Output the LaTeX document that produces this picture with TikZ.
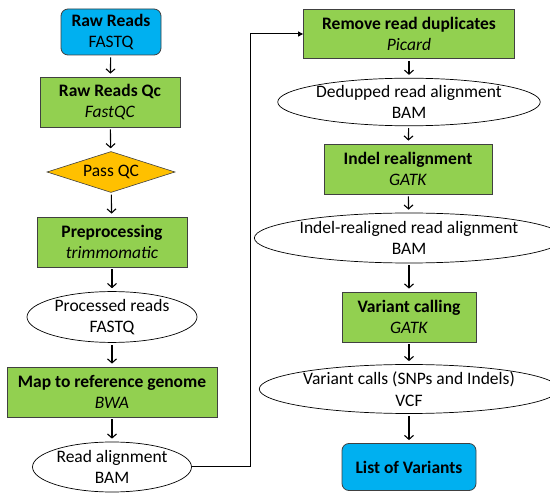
\documentclass[tikz,border=0pt]{standalone}
\usepackage{fontspec}
\setmainfont{Carlito}
\usetikzlibrary{shapes.geometric,arrows.meta}
\definecolor{cblue}{HTML}{00B0F0}
\definecolor{cgreen}{HTML}{92D050}
\definecolor{corange}{HTML}{FFC000}
\definecolor{cedge}{HTML}{404040}
\begin{document}
\begin{tikzpicture}[x=1pt,y=-1pt,
  every node/.style={font=\fontsize{17.5}{21.5}\selectfont, align=center, inner sep=0pt},
  blueb/.style={draw=cedge, line width=0.8pt, fill=cblue, rounded corners=7pt},
  greenb/.style={draw=cedge, line width=0.8pt, fill=cgreen},
  decision/.style={diamond, draw=cedge, line width=0.6pt, fill=corange, aspect=3},
  datab/.style={ellipse, draw=black, line width=0.7pt, fill=white},
  arr/.style={-{Straight Barb[length=4pt,width=9pt]}, line width=1.1pt, shorten >=3pt, shorten <=2pt},
  link/.style={-{Triangle[length=5pt,width=5pt]}, line width=1pt}]
\useasboundingbox (0,0) rectangle (550,500);
\node[blueb, minimum width=100pt, minimum height=46pt] (raw) at (111,32) {\textbf{Raw Reads}\\FASTQ};
\node[greenb, minimum width=140pt, minimum height=50pt] (qc) at (110,102) {\textbf{Raw Reads Qc}\\\textit{FastQC}};
\node[decision, minimum width=128pt, minimum height=41pt] (pass) at (111,172) {Pass QC};
\node[greenb, minimum width=150pt, minimum height=50pt] (pre) at (112,242) {\textbf{Preprocessing}\\\textit{trimmomatic}};
\node[datab, minimum width=170pt, minimum height=49pt] (proc) at (112,317) {Processed reads\\FASTQ};
\node[greenb, minimum width=210pt, minimum height=50pt] (map) at (112,392) {\textbf{Map to reference genome}\\\textit{BWA}};
\node[datab, minimum width=159pt, minimum height=50pt] (ra) at (112,467) {Read alignment\\BAM};
\node[greenb, minimum width=211pt, minimum height=49pt] (dup) at (409,34) {\textbf{Remove read duplicates}\\\textit{Picard}};
\node[datab, minimum width=218pt, minimum height=47pt] (dd) at (409,102) {Dedupped read alignment\\BAM};
\node[greenb, minimum width=168pt, minimum height=50pt] (indel) at (408,169) {\textbf{Indel realignment}\\\textit{GATK}};
\node[datab, minimum width=278pt, minimum height=50pt] (ir) at (409,238) {Indel-realigned read alignment\\BAM};
\node[greenb, minimum width=134pt, minimum height=50pt] (vc) at (409,317) {\textbf{Variant calling}\\\textit{GATK}};
\node[datab, minimum width=249pt, minimum height=49pt] (vcf) at (409,389) {Variant calls (SNPs and Indels)\\VCF};
\node[blueb, minimum width=134pt, minimum height=47pt] (list) at (409,467) {\textbf{List of Variants}};
\draw[arr] (raw) -- (qc);
\draw[arr] (qc) -- (pass);
\draw[arr] (pass) -- (pre);
\draw[arr] (pre) -- (proc);
\draw[arr] (proc) -- (map);
\draw[arr] (map) -- (ra);
\draw[arr] (dup) -- (dd);
\draw[arr] (dd) -- (indel);
\draw[arr] (indel) -- (ir);
\draw[arr] (ir) -- (vc);
\draw[arr] (vc) -- (vcf);
\draw[arr] (vcf) -- (list);
\coordinate (bend) at (250,34);
\draw[link] (ra.east) -| (bend) -- (dup.west);
\end{tikzpicture}
\end{document}
